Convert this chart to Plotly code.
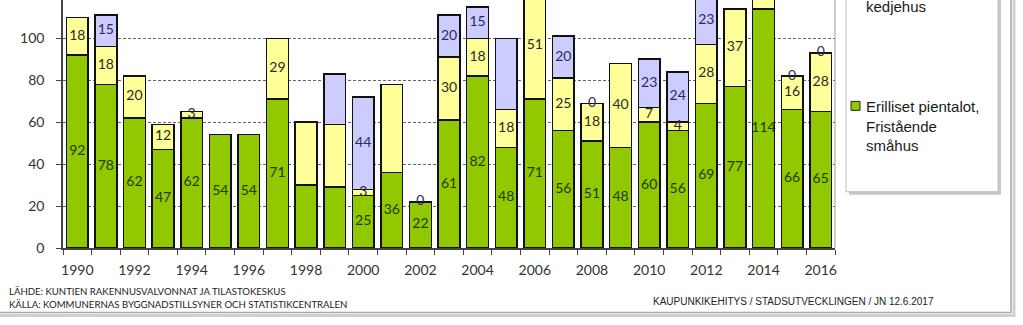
import plotly.graph_objects as go

years = list(range(1990, 2017))
green = [92, 78, 62, 47, 62, 54, 54, 71, 30, 29, 25, 36, 22, 61, 82, 48, 71, 56, 51, 48, 60, 56, 69, 77, 114, 66, 65]
yellow = [18, 18, 20, 12, 3, 0, 0, 29, 30, 30, 3, 42, 0, 30, 18, 18, 51, 25, 18, 40, 7, 4, 28, 37, 18, 16, 28]
purple = [0, 15, 0, 0, 0, 0, 0, 0, 0, 24, 44, 0, 0, 20, 15, 34, 0, 20, 0, 0, 23, 24, 23, 0, 0, 0, 0]

green_lbl = [92, 78, 62, 47, 62, 54, 54, 71, None, None, 25, 36, 22, 61, 82, 48, 71, 56, 51, 48, 60, 56, 69, 77, 114, 66, 65]
yellow_lbl = [18, 18, 20, 12, 3, None, None, 29, None, None, 3, None, None, 30, 18, 18, 51, 25, 18, 40, 7, 4, 28, 37, None, 16, 28]
purple_lbl = [None, 15, None, None, None, None, None, None, None, None, 44, None, 0, 20, 15, None, None, 20, 0, None, 23, 24, 23, None, None, 0, 0]

yticks = [0, 20, 40, 60, 80, 100, 120]
xticks = years[::2]

series_names = ["Erilliset pientalot,<br>Fristående<br>småhus",
                "Rivi- ja ketjutalot,<br>Rad- och<br>kedjehus",
                "Asuinkerrostalot,<br>Flervåningshus"]
source_fi = "LÄHDE: KUNTIEN RAKENNUSVALVONNAT JA TILASTOKESKUS"
source_sv = "KÄLLA: KOMMUNERNAS BYGGNADSTILLSYNER OCH STATISTIKCENTRALEN"
credit = "KAUPUNKIKEHITYS / STADSUTVECKLINGEN / JN 12.6.2017"

GREEN = "#92c800"
YELLOW = "#ffff99"
PURPLE = "#ccccff"

W, H = 1023, 325
L, R_px, PH = 63, 835, 248.3
PW = R_px - L


def px_x(px):
    return (px - L) / PW


def px_y(py):
    return (PH - py) / PH


fig = go.Figure()
for vals, col, nm in [(green, GREEN, series_names[0]), (yellow, YELLOW, series_names[1]), (purple, PURPLE, series_names[2])]:
    fig.add_trace(go.Bar(x=years, y=vals, name=nm, marker=dict(color=col, line=dict(color="#111111", width=1.5)),
                         showlegend=False, hoverinfo="skip"))

base = [0] * len(years)
for vals, lbls, tcol in [(green, green_lbl, "#233a00"), (yellow, yellow_lbl, "#2a2a2a"), (purple, purple_lbl, "#2b2b5e")]:
    xs, ys, ts = [], [], []
    for i, (v, lb) in enumerate(zip(vals, lbls)):
        if lb is not None:
            xs.append(years[i])
            ys.append(base[i] + v / 2)
            ts.append(str(lb))
        base[i] += v
    fig.add_trace(go.Scatter(x=xs, y=ys, text=ts, mode="text", textposition="middle center",
                             textfont=dict(family="Lato", size=14, color=tcol), showlegend=False, hoverinfo="skip"))

shapes = []
# plot area right border
shapes.append(dict(type="line", xref="paper", yref="paper", x0=1, x1=1, y0=0, y1=1.1,
                   line=dict(color="#9a9a9a", width=1)))
# outer frame shadow and border (right and bottom)
shapes.append(dict(type="rect", xref="paper", yref="paper", x0=px_x(-10), x1=px_x(1014), y0=px_y(316), y1=px_y(-20),
                   line=dict(color="#d0d0d0", width=3), layer="below"))
shapes.append(dict(type="rect", xref="paper", yref="paper", x0=px_x(-10), x1=px_x(1011), y0=px_y(313), y1=px_y(-20),
                   line=dict(color="#a8a8a8", width=1.5), fillcolor="rgba(0,0,0,0)", layer="below"))
# legend box shadow and box
shapes.append(dict(type="rect", xref="paper", yref="paper", x0=px_x(849), x1=px_x(1001), y0=px_y(195), y1=px_y(-20),
                   line=dict(width=0), fillcolor="#c8c8c8", layer="below"))
shapes.append(dict(type="rect", xref="paper", yref="paper", x0=px_x(846), x1=px_x(998), y0=px_y(192), y1=px_y(-20),
                   line=dict(color="#bdbdbd", width=1), fillcolor="white", layer="below"))
# legend markers
shapes.append(dict(type="rect", xref="paper", yref="paper", x0=px_x(851), x1=px_x(860), y0=px_y(110.5), y1=px_y(101.5),
                   line=dict(color="#222222", width=1), fillcolor=GREEN))
shapes.append(dict(type="rect", xref="paper", yref="paper", x0=px_x(851), x1=px_x(860), y0=px_y(-27.5), y1=px_y(-36.5),
                   line=dict(color="#222222", width=1), fillcolor=YELLOW))

annotations = []
annotations.append(dict(xref="paper", yref="paper", x=px_x(864), y=px_y(96), xanchor="left", yanchor="top",
                        text=series_names[0], showarrow=False, align="left",
                        font=dict(family="Liberation Sans", size=15, color="#1a1a1a")))
annotations.append(dict(xref="paper", yref="paper", x=px_x(864), y=px_y(17), xanchor="left", yanchor="bottom",
                        text=series_names[1], showarrow=False, align="left",
                        font=dict(family="Liberation Sans", size=15, color="#1a1a1a")))
annotations.append(dict(xref="paper", yref="paper", x=px_x(7), y=px_y(292), xanchor="left", yanchor="middle",
                        text=source_fi, showarrow=False, font=dict(family="Lato", size=9.6, color="#1a1a1a")))
annotations.append(dict(xref="paper", yref="paper", x=px_x(7), y=px_y(305), xanchor="left", yanchor="middle",
                        text=source_sv, showarrow=False, font=dict(family="Lato", size=9.6, color="#1a1a1a")))
annotations.append(dict(xref="paper", yref="paper", x=px_x(936), y=px_y(302), xanchor="right", yanchor="middle",
                        text=credit, showarrow=False, font=dict(family="Liberation Sans", size=10, color="#222222")))
annotations.append(dict(xref="paper", yref="y", x=px_x(49), y=yticks[-1], xanchor="right", yanchor="middle",
                        text=str(yticks[-1]), showarrow=False, font=dict(family="Lato", size=14, color="#333333")))

fig.update_layout(
    width=W, height=H,
    margin=dict(l=L, r=W - R_px, t=0, b=H - PH, pad=0),
    paper_bgcolor="white", plot_bgcolor="white",
    barmode="stack", bargap=0.24,
    showlegend=False,
    shapes=shapes, annotations=annotations,
    xaxis=dict(range=[years[0] - 0.5, years[-1] + 0.5], tickmode="array", tickvals=xticks,
               ticktext=[str(y) for y in xticks], ticks="", showgrid=False, zeroline=False,
               showline=True, linecolor="#444444", linewidth=1.5, ticklabelstandoff=8,
               tickfont=dict(family="Lato", size=14, color="#333333"),
               minor=dict(tickmode="array", tickvals=[y - 0.5 for y in years] + [years[-1] + 0.5],
                          ticks="outside", ticklen=5, tickcolor="#444444", showgrid=False)),
    yaxis=dict(range=[0, PH / 2.1], tickmode="array", tickvals=yticks[:-1], ticks="outside", ticklen=5,
               tickcolor="#444444", showline=True, linecolor="#444444", linewidth=1.5,
               showgrid=True, gridcolor="#666666", gridwidth=1, griddash="3px,2px", zeroline=False,
               tickfont=dict(family="Lato", size=14, color="#333333"), ticklabelstandoff=9),
)

fig.write_html("out.html")
